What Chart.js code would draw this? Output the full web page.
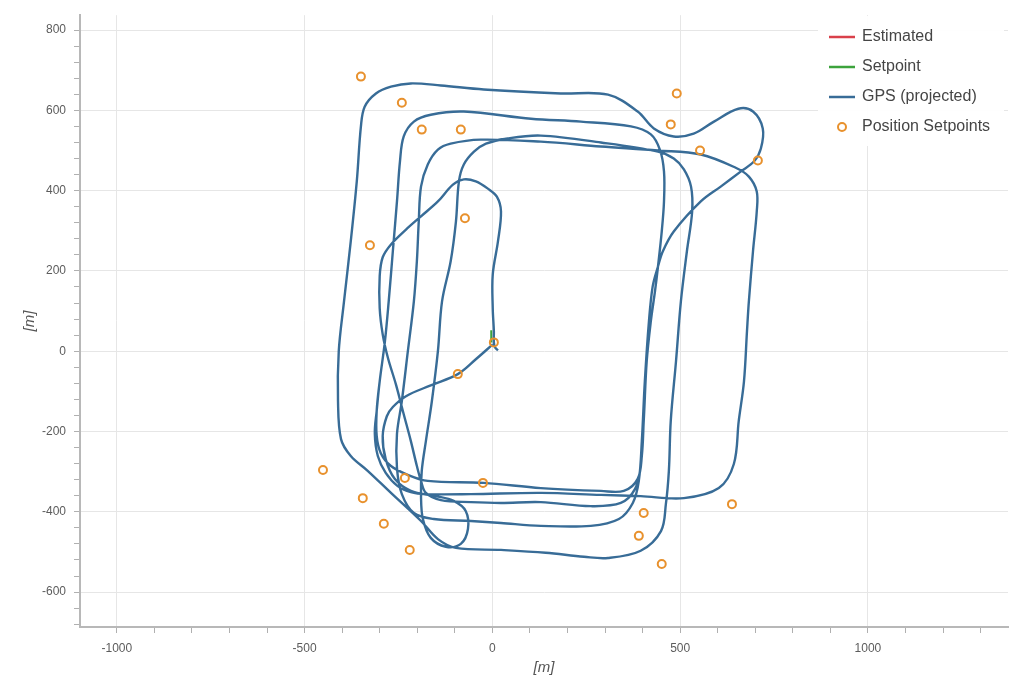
<!DOCTYPE html>
<html>
<head>
<meta charset="utf-8">
<script src="https://cdn.jsdelivr.net/npm/chart.js@4.4.0/dist/chart.umd.min.js"></script>
<style>
html,body{margin:0;padding:0;background:#ffffff;}
#wrap{position:relative;width:1014px;height:679px;}
</style>
</head>
<body>
<div id="wrap"><canvas id="c"></canvas></div>
<script>
// ---- series names / colours ----
const seriesLabels = ['Estimated', 'Setpoint', 'GPS (projected)', 'Position Setpoints'];
const seriesColors = ['#d9404a', '#3ca33c', '#386c97', '#e8912d'];

// ---- axis ticks ----
const xMajorStep = 500, xMinorStep = 100;
const yMajorStep = 200, yMinorStep = 40;
const xRange = [-1098, 1373];
const yRange = [-687, 837];
const xTickFirst = -1000, xTickLast = 1300;
const yTickFirst = -680, yTickLast = 800;

// ---- Estimated (hidden under GPS in the reference) ----
const estimatedX = [];
const estimatedY = [];

// ---- Setpoint (tiny visible piece at origin) ----
const setpointX = [-3, -3];
const setpointY = [22, 52];

// ---- GPS (projected) track, in segments ----
const seg1X = [15,7,4,4,1,1,15,23,12,-12,-44,-76,-105,-145,-190,-230,-270,-292,-300,
  -300,-292,-278,-257,-236,-217,-201,-190,-177,-137,-57,23,129,262,342,380,395,
  403,411,422,433,441,451,457,457,446,422,369,236,103,-76,-164,-209,-236,-246,
  -254,-265,-276,-286,-300,-308,-308,-297,-270,-225,-172,-23,129,289,350,387,398];
const seg1Y = [2,10,22,50,107,191,274,348,385,405,423,428,415,373,336,303,266,234,187,
  107,42,-17,-82,-157,-224,-286,-323,-353,-371,-376,-378,-376,-386,-378,-343,-286,
  -174,-25,75,149,211,298,373,448,502,540,560,572,579,597,589,572,535,473,
  373,249,124,25,-75,-149,-211,-254,-286,-308,-323,-328,-341,-348,-348,-318,-261];

const seg2X = [403,411,422,433,441,451,457,457,446,422,369,236,103,-76,-164,-209,-236,-246,-254,-265,-276,-286,-300,-308,-313,-305];
const seg2Y = [-174,-25,75,149,211,298,373,448,502,540,560,572,579,597,589,572,535,473,373,249,124,25,-75,-149,-205,-261];

const seg3X = [-284,-252,-217,-177,-57,129,289,395,510,603,643];
const seg3Y = [-303,-336,-351,-356,-356,-353,-358,-361,-366,-341,-281];

const seg4X = [656,670,678,683,694,704,704,683,648,555,441,289,129,-31,-111,-145,-172,-190];
const seg4Y = [-174,-75,50,124,249,348,398,435,457,490,500,510,522,527,517,502,465,410];

const seg5X = [-196,-201,-209,-225,-241,-254,-254,-241,-209,-156,-57,23,129,262,337,374,390];
const seg5Y = [323,224,124,0,-124,-206,-291,-356,-403,-418,-423,-428,-435,-435,-418,-378,-323];

const seg6X = [398,406,417,427,441,454,483,555,608,662,697,715,720,694,655,590,536,483,430,387,308,182,-23,-137,-217,-270,-310,-340,-350];
const seg6Y = [-224,-75,75,162,211,249,298,373,410,448,473,505,555,597,604,572,542,535,555,597,639,642,652,662,667,659,642,609,560];

const seg7X = [-361,-377,-395,-409,-411,-403,-377,-332,-270,-190,-145,-97];
const seg7Y = [423,274,124,0,-124,-219,-261,-298,-353,-423,-468,-490];

const seg8X = [23,142,244,308,395,449,462,470,475,489,502,518,532,529,510,483,441,289,129,41,-17,-49,-76,-89];
const seg8Y = [-495,-502,-512,-515,-497,-448,-381,-298,-174,-25,124,249,348,410,453,480,497,520,537,530,517,497,465,423];

const seg9X = [-97,-111,-134,-145,-161,-177,-188,-190,-185,-164,-124,-84,-65,-71,-103,-150,-217,-260,-284,-292,-281,-265,-230,-164,-92,-44,1];
const seg9Y = [323,224,124,0,-124,-224,-298,-361,-418,-465,-487,-480,-443,-398,-373,-361,-348,-318,-269,-211,-162,-139,-112,-85,-57,-20,17];

// ---- Position setpoints ----
const targetX = [4,-92,-326,-73,-350,-241,-188,-84,491,475,553,707,638,-451,-345,-233,-25,-289,-220,403,390,451];
const targetY = [22,-57,264,331,684,619,552,552,642,565,500,475,-381,-296,-366,-316,-328,-430,-495,-403,-460,-530];

// ---- build point lists ----
function zip(xs, ys) { return xs.map((x, i) => ({x: x, y: ys[i]})); }
function tickList(first, last, step) {
  const out = [];
  for (let v = first; v <= last; v += step) out.push({value: v});
  return out;
}
const gpsX = [].concat(seg1X, seg2X, seg3X, seg4X, seg5X, seg6X, seg7X, seg8X, seg9X);
const gpsY = [].concat(seg1Y, seg2Y, seg3Y, seg4Y, seg5Y, seg6Y, seg7Y, seg8Y, seg9Y);

const legendPlugin = {
  id: 'insideLegend',
  afterDraw(chart) {
    const ctx = chart.ctx;
    ctx.save();
    ctx.fillStyle = 'rgba(255,255,255,0.95)';
    ctx.fillRect(818, 16, 186, 130);
    ctx.font = '16px "Liberation Sans", Arial, sans-serif';
    ctx.textBaseline = 'middle';
    ctx.textAlign = 'left';
    seriesLabels.forEach((lab, i) => {
      const y = 37 + i * 30;
      if (i < 3) {
        ctx.strokeStyle = seriesColors[i];
        ctx.lineWidth = 2.5;
        ctx.beginPath();
        ctx.moveTo(829, y);
        ctx.lineTo(855, y);
        ctx.stroke();
      } else {
        ctx.strokeStyle = seriesColors[i];
        ctx.lineWidth = 2;
        ctx.beginPath();
        ctx.arc(842, y, 4, 0, Math.PI * 2);
        ctx.stroke();
      }
      ctx.fillStyle = '#454545';
      ctx.fillText(lab, 862, y);
    });
    ctx.restore();
  }
};

const tickFont = {family: '"Liberation Sans", Arial, sans-serif', size: 12};
const titleFont = {family: '"Liberation Sans", Arial, sans-serif', size: 15, style: 'italic'};

new Chart(document.getElementById('c'), {
  type: 'scatter',
  data: {
    datasets: [
      {
        label: seriesLabels[3], data: zip(targetX, targetY), showLine: false, order: 0,
        pointRadius: 4, pointHoverRadius: 4, pointBorderWidth: 2,
        borderColor: seriesColors[3], backgroundColor: 'rgba(255,255,255,0)'
      },
      {
        label: seriesLabels[2], data: zip(gpsX, gpsY), showLine: true, order: 1,
        borderColor: seriesColors[2], borderWidth: 2.4, pointRadius: 0, tension: 0.35,
        backgroundColor: seriesColors[2], fill: false
      },
      {
        label: seriesLabels[1], data: zip(setpointX, setpointY), showLine: true, order: 2,
        borderColor: seriesColors[1], borderWidth: 2, pointRadius: 0, fill: false
      },
      {
        label: seriesLabels[0], data: zip(estimatedX, estimatedY), showLine: true, order: 3,
        borderColor: seriesColors[0], borderWidth: 2, pointRadius: 0, fill: false
      }
    ]
  },
  options: {
    responsive: true,
    maintainAspectRatio: false,
    devicePixelRatio: 1,
    animation: false,
    layout: {padding: {left: 8, top: 9, right: 4, bottom: 0}},
    plugins: {legend: {display: false}, tooltip: {enabled: false}},
    scales: {
      x: {
        type: 'linear', min: xRange[0], max: xRange[1],
        afterBuildTicks: (s) => { s.ticks = tickList(xTickFirst, xTickLast, xMinorStep); },
        afterFit: (s) => { s.height = 52; },
        border: {display: true, color: '#b8b8b8', width: 2},
        grid: {
          color: (c) => (c.tick && c.tick.value % xMajorStep === 0) ? '#e6e6e6' : 'rgba(0,0,0,0)',
          tickColor: '#b0b0b0',
          tickLength: 6, lineWidth: 1
        },
        ticks: {
          autoSkip: false, maxRotation: 0, minRotation: 0, padding: 8,
          color: '#5c5c5c', font: tickFont,
          callback: (v) => (v % xMajorStep === 0) ? String(v) : ''
        },
        title: {display: true, text: '[m]', color: '#555555', font: titleFont, padding: {top: 0, bottom: 2}}
      },
      y: {
        type: 'linear', min: yRange[0], max: yRange[1],
        afterBuildTicks: (s) => { s.ticks = tickList(yTickFirst, yTickLast, yMinorStep); },
        afterFit: (s) => { s.width = 72; },
        border: {display: true, color: '#b8b8b8', width: 2},
        grid: {
          color: (c) => (c.tick && c.tick.value % yMajorStep === 0) ? '#e6e6e6' : 'rgba(0,0,0,0)',
          tickColor: '#b0b0b0',
          tickLength: 6, lineWidth: 1
        },
        ticks: {
          autoSkip: false, padding: 8,
          color: '#5c5c5c', font: tickFont,
          callback: (v) => (v % yMajorStep === 0) ? String(v) : ''
        },
        title: {display: true, text: '[m]', color: '#555555', font: titleFont, padding: {top: 13, bottom: 0}}
      }
    }
  },
  plugins: [legendPlugin]
});
</script>
</body>
</html>
